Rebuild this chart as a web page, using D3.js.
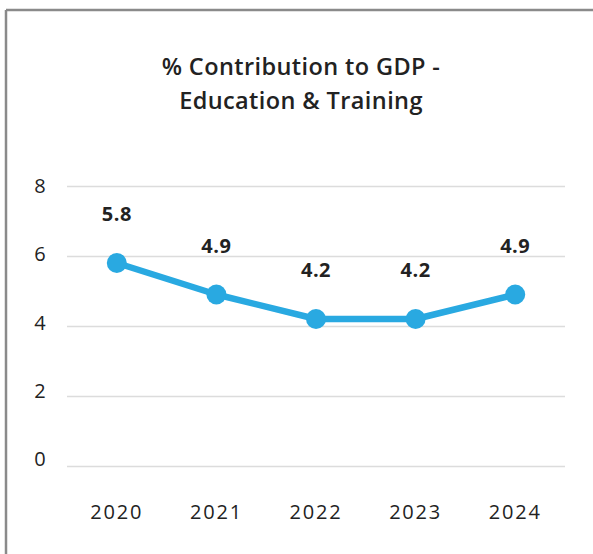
<!DOCTYPE html>
<html>
<head>
<meta charset="utf-8">
<script src="https://cdn.jsdelivr.net/npm/d3@7"></script>
<style>
  html, body { margin: 0; padding: 0; background: #fff; }
  svg { display: block; }
</style>
</head>
<body>
<svg id="chart" width="593" height="554"></svg>
<script>
// Share of GDP contributed by the education & training sector, by year
const years = ["2020", "2021", "2022", "2023", "2024"];
const contribution = [5.8, 4.9, 4.2, 4.2, 4.9];
const yTicks = [0, 2, 4, 6, 8];
const titleLines = ["% Contribution to GDP -", "Education & Training"];

const W = 593, H = 554;
const svg = d3.select("#chart");
const font = "'Open Sans', Lato, sans-serif";
const ink = "#222";
const lineColor = "#29a9e1";

// panel frame: top and left edges only are visible
svg.append("line").attr("x1", 6).attr("x2", W).attr("y1", 10).attr("y2", 10)
  .attr("stroke", "#8a8a8a").attr("stroke-width", 2.5);
svg.append("line").attr("x1", 6).attr("x2", 6).attr("y1", 10).attr("y2", H)
  .attr("stroke", "#8a8a8a").attr("stroke-width", 2.5);

// title
svg.append("g").selectAll("text").data(titleLines).join("text")
  .attr("x", 301).attr("y", (d, i) => 75 + i * 34)
  .attr("text-anchor", "middle")
  .attr("font-family", font).attr("font-weight", 600).attr("font-size", 23.5)
  .attr("letter-spacing", 0.4)
  .attr("fill", ink)
  .text(d => d);

// scales
const x = d3.scaleBand().domain(years).range([67, 565]);
const y = d3.scaleLinear().domain([0, 8]).range([466, 186]);
// tick labels sit on a slightly tighter spacing than the gridlines
const yLabel = d3.scaleLinear().domain([0, 8]).range([459, 186]);

// gridlines
const grid = svg.append("g").attr("transform", "translate(67,0)")
  .call(d3.axisLeft(y).tickValues(yTicks).tickSize(-(565 - 67)).tickFormat(""));
grid.select(".domain").remove();
grid.selectAll(".tick line").attr("stroke", "#dcdcdc").attr("stroke-width", 1.3);

// y tick labels
svg.append("g").selectAll("text").data(yTicks).join("text")
  .attr("x", 40).attr("y", d => yLabel(d))
  .attr("dy", "0.36em")
  .attr("text-anchor", "middle")
  .attr("font-family", font).attr("font-size", 20)
  .attr("fill", ink)
  .text(d => d);

// x axis labels
const xAxis = svg.append("g").attr("transform", "translate(0,466)")
  .call(d3.axisBottom(x).tickSize(0).tickPadding(0));
xAxis.select(".domain").remove();
xAxis.selectAll(".tick text")
  .attr("y", 46).attr("dy", "0.36em")
  .attr("font-family", font).attr("font-size", 20)
  .attr("letter-spacing", 1.8)
  .attr("fill", ink);

const cx = d => x(d) + x.bandwidth() / 2;
const pts = years.map((yr, i) => ({ yr, v: contribution[i] }));

// series line
svg.append("path").datum(pts)
  .attr("fill", "none").attr("stroke", lineColor).attr("stroke-width", 6.5)
  .attr("stroke-linejoin", "round")
  .attr("d", d3.line().x(d => cx(d.yr)).y(d => y(d.v)));

// markers
svg.append("g").selectAll("circle").data(pts).join("circle")
  .attr("cx", d => cx(d.yr)).attr("cy", d => y(d.v)).attr("r", 10)
  .attr("fill", lineColor);

// value labels
svg.append("g").selectAll("text").data(pts).join("text")
  .attr("x", d => cx(d.yr)).attr("y", d => y(d.v) - 49)
  .attr("dy", "0.36em")
  .attr("text-anchor", "middle")
  .attr("font-family", font).attr("font-weight", 700).attr("font-size", 20)
  .attr("letter-spacing", 0.5)
  .attr("fill", ink)
  .text(d => d.v.toFixed(1));
</script>
</body>
</html>
